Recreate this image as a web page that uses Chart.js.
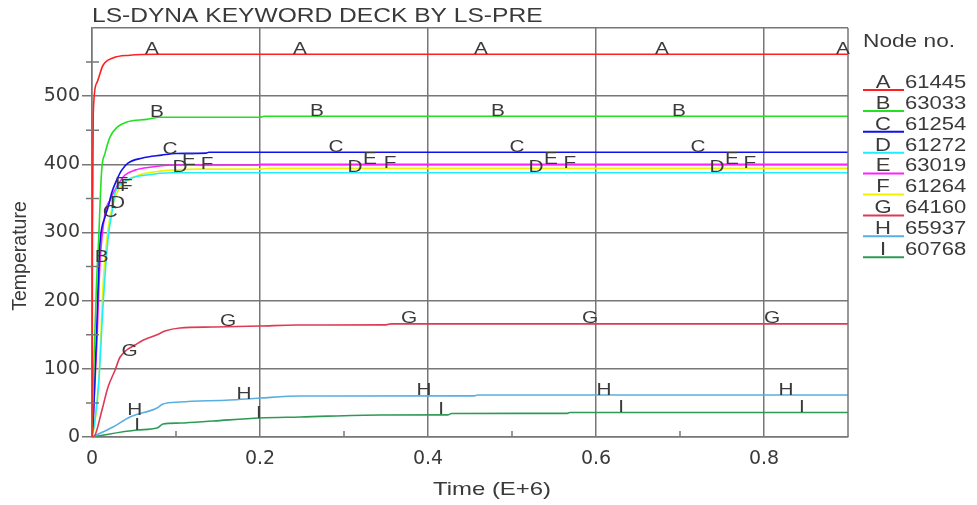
<!DOCTYPE html>
<html>
<head>
<meta charset="utf-8">
<title>LS-DYNA KEYWORD DECK BY LS-PRE</title>
<script src="https://cdn.jsdelivr.net/npm/chart.js@4.4.1/dist/chart.umd.min.js"></script>
<style>
  html, body { margin: 0; padding: 0; background: #fff; }
  #chart { display: block; }
</style>
</head>
<body>
<canvas id="chart" width="977" height="505"></canvas>
<script>
// axis ticks
const xTicks = [0, 0.2, 0.4, 0.6, 0.8];
const xMinorTicks = [0.1, 0.3, 0.5, 0.7];
const yTicks = [0, 100, 200, 300, 400, 500, 600];
const yMinorTicks = [50, 150, 250, 350, 450, 550];

// series
const seriesLetters = ['A', 'B', 'C', 'D', 'E', 'F', 'G', 'H', 'I'];
const nodeIds = ['61445', '63033', '61254', '61272', '63019', '61264', '64160', '65937', '60768'];
const seriesColors = ['#ff2020', '#22e022', '#1010ee', '#20eeff', '#ff20ff', '#f2f200', '#dc3a55', '#5aaee0', '#2e9a55'];

// temperature histories (time in E+6)
const aTime = [0, 0.0005, 0.0015, 0.0056, 0.013, 0.025, 0.045, 0.077, 0.9];
const aTemp = [0, 300, 475, 519, 545, 556, 560, 561.5, 561.5];
const bTime = [0, 0.001, 0.0025, 0.0055, 0.0075, 0.0115, 0.0155, 0.0214, 0.0294, 0.0413, 0.0651, 0.081, 0.2, 0.205, 0.9];
const bTemp = [0, 50, 120, 230, 278, 391, 416, 440, 454, 462, 466, 469, 469, 470.5, 470.5];
const cTime = [0, 0.0015, 0.0056, 0.0075, 0.0095, 0.0155, 0.0194, 0.0234, 0.0294, 0.0354, 0.0432, 0.0592, 0.083, 0.1, 0.136, 0.139, 0.9];
const cTemp = [0, 25, 157, 230, 284, 323, 338, 358, 377, 391.5, 402, 409, 413.5, 416, 416.4, 417.8, 417.8];
const dTime = [0, 0.003, 0.008, 0.0135, 0.019, 0.0245, 0.0274, 0.0354, 0.0472, 0.063, 0.095, 0.9];
const dTemp = [0, 20, 80, 200, 290, 335, 357.7, 372, 380, 384, 387.6, 387.6];
const eTime = [0, 0.002, 0.0056, 0.0095, 0.0155, 0.0214, 0.0294, 0.039, 0.0512, 0.071, 0.095, 0.196, 0.2, 0.9];
const eTemp = [0, 40, 132, 255, 328, 347.5, 367, 384, 391.5, 396, 399, 399, 400, 400];
const fTime = [0, 0.002, 0.0075, 0.0135, 0.0194, 0.0254, 0.0313, 0.0432, 0.0552, 0.075, 0.095, 0.13, 0.2, 0.21, 0.9];
const fTemp = [0, 10, 69, 230, 308, 343, 362, 377, 384, 389, 391.5, 393, 393, 394, 394];
const gTime = [0, 0.0036, 0.0119, 0.019, 0.0274, 0.0333, 0.0417, 0.0512, 0.0607, 0.0774, 0.0869, 0.1048, 0.144, 0.2, 0.244, 0.35, 0.356, 0.9];
const gTemp = [0, 2.9, 39.6, 73, 98, 117, 128, 135, 142, 150, 155.4, 159.8, 161.3, 162.8, 164.2, 164.5, 166, 166];
const hTime = [0, 0.025, 0.0452, 0.0774, 0.0845, 0.1048, 0.164, 0.2, 0.248, 0.455, 0.459, 0.9];
const hTemp = [0, 14.7, 29.3, 42.5, 48.4, 51.3, 54.3, 57.2, 60.1, 60.3, 61.6, 61.6];
const iTime = [0, 0.0536, 0.0774, 0.0845, 0.1048, 0.144, 0.2, 0.248, 0.343, 0.424, 0.428, 0.565, 0.569, 0.9];
const iTemp = [0, 10.3, 13.2, 19, 20.5, 23.5, 27.9, 29.3, 32.3, 32.5, 34.5, 34.7, 36, 36];

// times where the letter of each curve is written above it
const aMarks = [0.0714, 0.2476, 0.4631, 0.6786, 0.894];
const bMarks = [0.0774, 0.2679, 0.4833, 0.6988];
const cMarks = [0.0929, 0.2905, 0.506, 0.7214];
const dMarks = [0.1048, 0.3131, 0.5286, 0.744];
const eMarks = [0.1155, 0.331, 0.5464, 0.7619];
const fMarks = [0.1369, 0.3548, 0.569, 0.7833];
const gMarks = [0.1619, 0.3774, 0.5929, 0.8095];
const hMarks = [0.051, 0.181, 0.3952, 0.6095, 0.8262];
const iMarks = [0.0536, 0.1988, 0.4155, 0.6298, 0.8452];
// letters written beside the steep start of a curve
const riseMarks = [null, 0.0069, 0.017, 0.0255, 0.031, 0.036, 0.04, null, null];

const times = [aTime, bTime, cTime, dTime, eTime, fTime, gTime, hTime, iTime];
const temps = [aTemp, bTemp, cTemp, dTemp, eTemp, fTemp, gTemp, hTemp, iTemp];
const marks = [aMarks, bMarks, cMarks, dMarks, eMarks, fMarks, gMarks, hMarks, iMarks];

const STRETCH = 1.26;
const TEXT = '#3a3a3a';
const GRID = '#777777';

function stretchText(ctx, text, x, y, size, align) {
    ctx.save();
    ctx.font = size + 'px "Liberation Sans", Arial, sans-serif';
    ctx.fillStyle = TEXT;
    ctx.textAlign = align;
    ctx.textBaseline = 'middle';
    ctx.translate(x, y);
    ctx.scale(STRETCH, 1);
    ctx.fillText(text, 0, 0);
    ctx.restore();
}

function valueAt(ts, vs, t) {
    for (let k = 1; k < ts.length; k++) {
        if (t <= ts[k]) {
            const f = (t - ts[k - 1]) / (ts[k] - ts[k - 1]);
            return vs[k - 1] + f * (vs[k] - vs[k - 1]);
        }
    }
    return vs[vs.length - 1];
}

// frame, minor ticks, curve letters, title, legend and axis titles
const decorPlugin = {
    id: 'decor',
    afterDatasetsDraw(chart) {
        const ctx = chart.ctx;
        const xs = chart.scales.x, ys = chart.scales.y;
        const area = chart.chartArea;

        ctx.save();
        ctx.strokeStyle = GRID;
        ctx.lineWidth = 1.5;
        ctx.beginPath();
        ctx.moveTo(area.right, area.top);
        ctx.lineTo(area.right, area.bottom);
        xMinorTicks.forEach(v => {
            const px = xs.getPixelForValue(v);
            ctx.moveTo(px, area.bottom);
            ctx.lineTo(px, area.bottom - 6);
        });
        yMinorTicks.forEach(v => {
            const py = ys.getPixelForValue(v);
            ctx.moveTo(area.left - 6, py);
            ctx.lineTo(area.left + 7, py);
        });
        ctx.stroke();
        ctx.restore();

        // letters on the curves
        marks.forEach((list, i) => {
            list.forEach(t => {
                const px = xs.getPixelForValue(t);
                const py = ys.getPixelForValue(valueAt(times[i], temps[i], t));
                stretchText(ctx, seriesLetters[i], px, py - 5, 16.5, 'center');
            });
            if (riseMarks[i] !== null) {
                const t = riseMarks[i];
                const px = xs.getPixelForValue(t);
                const py = ys.getPixelForValue(valueAt(times[i], temps[i], t));
                stretchText(ctx, seriesLetters[i], px + 4, py, 16.5, 'center');
            }
        });
    },
    afterDraw(chart) {
        const ctx = chart.ctx;
        const area = chart.chartArea;

        stretchText(ctx, 'LS-DYNA KEYWORD DECK BY LS-PRE', area.left, 17, 19.5, 'left');

        // legend
        stretchText(ctx, 'Node no.', 863, 42, 18, 'left');
        seriesLetters.forEach((letter, i) => {
            const y = 83 + i * 20.9;
            ctx.save();
            ctx.strokeStyle = seriesColors[i];
            ctx.lineWidth = 2;
            ctx.beginPath();
            ctx.moveTo(863, y + 7);
            ctx.lineTo(904, y + 7);
            ctx.stroke();
            ctx.restore();
            stretchText(ctx, letter, 883, y, 17.5, 'center');
            stretchText(ctx, nodeIds[i], 905, y, 17.5, 'left');
        });

        // axis titles
        stretchText(ctx, 'Time (E+6)', (area.left + area.right) / 2 + 22, 490, 19, 'center');
        ctx.save();
        ctx.translate(21, 256);
        ctx.rotate(-Math.PI / 2);
        ctx.font = '19.5px "Liberation Sans", Arial, sans-serif';
        ctx.fillStyle = TEXT;
        ctx.textAlign = 'center';
        ctx.textBaseline = 'middle';
        ctx.fillText('Temperature', 0, 0);
        ctx.restore();
    }
};

const datasets = seriesLetters.map((letter, i) => ({
    label: letter + ' ' + nodeIds[i],
    data: times[i].map((t, k) => ({ x: t, y: temps[i][k] })),
    borderColor: seriesColors[i],
    backgroundColor: seriesColors[i],
    borderWidth: 1.6,
    pointRadius: 0,
    fill: false,
    cubicInterpolationMode: 'monotone'
}));

new Chart(document.getElementById('chart').getContext('2d'), {
    type: 'line',
    data: { datasets: datasets },
    plugins: [decorPlugin],
    options: {
        responsive: false,
        animation: false,
        devicePixelRatio: 1,
        layout: { padding: { top: 28, right: 129, left: 0, bottom: 0 } },
        plugins: {
            legend: { display: false },
            tooltip: { enabled: false }
        },
        scales: {
            x: {
                type: 'linear',
                min: 0,
                max: 0.9,
                afterBuildTicks: axis => { axis.ticks = xTicks.map(v => ({ value: v })); },
                afterFit: axis => { axis.height = 68; },
                grid: { color: GRID, lineWidth: 1.5, drawTicks: false },
                border: { color: GRID, width: 1.5 },
                ticks: {
                    padding: 11,
                    color: TEXT,
                    font: { family: 'DejaVu Sans', size: 19 },
                    callback: v => String(v)
                }
            },
            y: {
                min: 0,
                max: 600,
                afterBuildTicks: axis => { axis.ticks = yTicks.map(v => ({ value: v })); },
                afterFit: axis => { axis.width = 92; },
                grid: {
                    color: GRID,
                    lineWidth: 1.5,
                    tickLength: 10,
                    tickColor: c => (c.tick && c.tick.value === 600 ? 'rgba(0,0,0,0)' : GRID)
                },
                border: { color: GRID, width: 1.5 },
                ticks: {
                    padding: 2,
                    color: TEXT,
                    font: { family: 'DejaVu Sans', size: 19 },
                    callback: v => (v === 600 ? '' : String(v))
                }
            }
        }
    }
});
</script>
</body>
</html>
